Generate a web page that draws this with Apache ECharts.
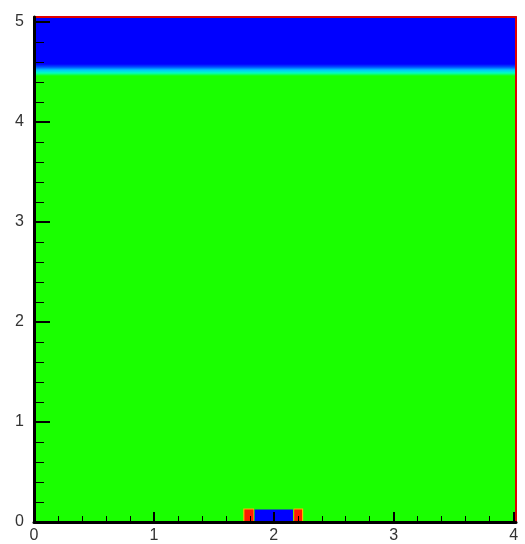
<!DOCTYPE html>
<html>
<head>
<meta charset="utf-8">
<script src="https://cdn.jsdelivr.net/npm/echarts@6/dist/echarts.min.js"></script>
<style>
  html, body { margin: 0; padding: 0; background: #fff; }
  #main { width: 525px; height: 544px; }
</style>
</head>
<body>
<div id="main"></div>
<script>
  // tick labels
  const xMajor = [0, 1, 2, 3, 4]
  const xMinor = [0.2, 0.4, 0.6, 0.8, 1.2, 1.4, 1.6, 1.8, 2.2, 2.4, 2.6, 2.8, 3.2, 3.4, 3.6, 3.8]
  const yMajor = [0, 1, 2, 3, 4, 5]
  const yMinor = [0.2, 0.4, 0.6, 0.8, 1.2, 1.4, 1.6, 1.8, 2.2, 2.4, 2.6, 2.8, 3.2, 3.4, 3.6, 3.8, 4.2, 4.4, 4.6, 4.8]
  const xMax = 4.02
  const yMax = 5.05

  // field regions: [x0, x1, y0, y1, fill index]
  const fills = ['#1aff00', '#0000ff', 'band', '#ffb400', '#ff1a00']
  const bandStops = ['#0000ff', '#0050ff', '#00c8ff', '#00ffc0', '#1aff00']
  const regions = [
    [0, 4.02, 0, 4.52, 0],
    [0, 4.02, 4.55, 5.05, 1],
    [0, 4.02, 4.46, 4.58, 2],
    [1.745, 1.835, 0, 0.135, 3],
    [1.755, 1.83, 0, 0.125, 4],
    [1.84, 2.16, 0, 0.125, 1],
    [2.165, 2.245, 0, 0.135, 3],
    [2.17, 2.235, 0, 0.125, 4]
  ]

  const labelStyle = { color: '#333', fontSize: 16, fontFamily: 'Liberation Sans' }

  function renderRegion (params, api) {
    let p0 = api.coord([api.value(0), api.value(3)])
    let p1 = api.coord([api.value(1), api.value(2)])
    let fill = fills[api.value(4)]
    if (fill === 'band') {
      fill = new echarts.graphic.LinearGradient(0, 0, 0, 1, bandStops.map((c, i) => ({
        offset: i / (bandStops.length - 1), color: c
      })))
    }
    return {
      type: 'rect',
      shape: { x: p0[0], y: p0[1], width: p1[0] - p0[0], height: p1[1] - p0[1] },
      style: { fill: fill }
    }
  }

  let option = {
    animation: false,
    grid: { left: 34, right: 9, top: 17, bottom: 22 },
    xAxis: [{
      type: 'value', min: 0, max: xMax, position: 'bottom', z: 10,
      splitLine: { show: false },
      axisLine: { onZero: false, lineStyle: { color: '#000', width: 3 } },
      axisTick: { inside: true, length: 10, customValues: xMajor, lineStyle: { color: '#000', width: 2 } },
      axisLabel: Object.assign({ customValues: xMajor, margin: 6 }, labelStyle)
    }, {
      type: 'value', min: 0, max: xMax, position: 'bottom', z: 10,
      splitLine: { show: false },
      axisLine: { show: false, onZero: false },
      axisTick: { inside: true, length: 6, customValues: xMinor, lineStyle: { color: '#000', width: 1 } },
      axisLabel: { show: false }
    }, {
      type: 'value', min: 0, max: xMax, position: 'top', z: 9,
      splitLine: { show: false },
      axisLine: { onZero: false, lineStyle: { color: '#e00000', width: 2 } },
      axisTick: { show: false },
      axisLabel: { show: false }
    }],
    yAxis: [{
      type: 'value', min: 0, max: yMax, position: 'left', z: 10,
      splitLine: { show: false },
      axisLine: { onZero: false, lineStyle: { color: '#000', width: 3 } },
      axisTick: { inside: true, length: 16, customValues: yMajor, lineStyle: { color: '#000', width: 2 } },
      axisLabel: Object.assign({ customValues: yMajor, margin: 10 }, labelStyle)
    }, {
      type: 'value', min: 0, max: yMax, position: 'left', z: 10,
      splitLine: { show: false },
      axisLine: { show: false, onZero: false },
      axisTick: { inside: true, length: 10, customValues: yMinor, lineStyle: { color: '#000', width: 1 } },
      axisLabel: { show: false }
    }, {
      type: 'value', min: 0, max: yMax, position: 'right', z: 9,
      splitLine: { show: false },
      axisLine: { onZero: false, lineStyle: { color: '#e00000', width: 2 } },
      axisTick: { show: false },
      axisLabel: { show: false }
    }],
    series: [{
      type: 'custom',
      xAxisIndex: 0,
      yAxisIndex: 0,
      z: 1,
      renderItem: renderRegion,
      encode: { x: [0, 1], y: [2, 3] },
      data: regions
    }]
  }

  let chart = echarts.init(document.getElementById('main'))
  chart.setOption(option)
</script>
</body>
</html>
